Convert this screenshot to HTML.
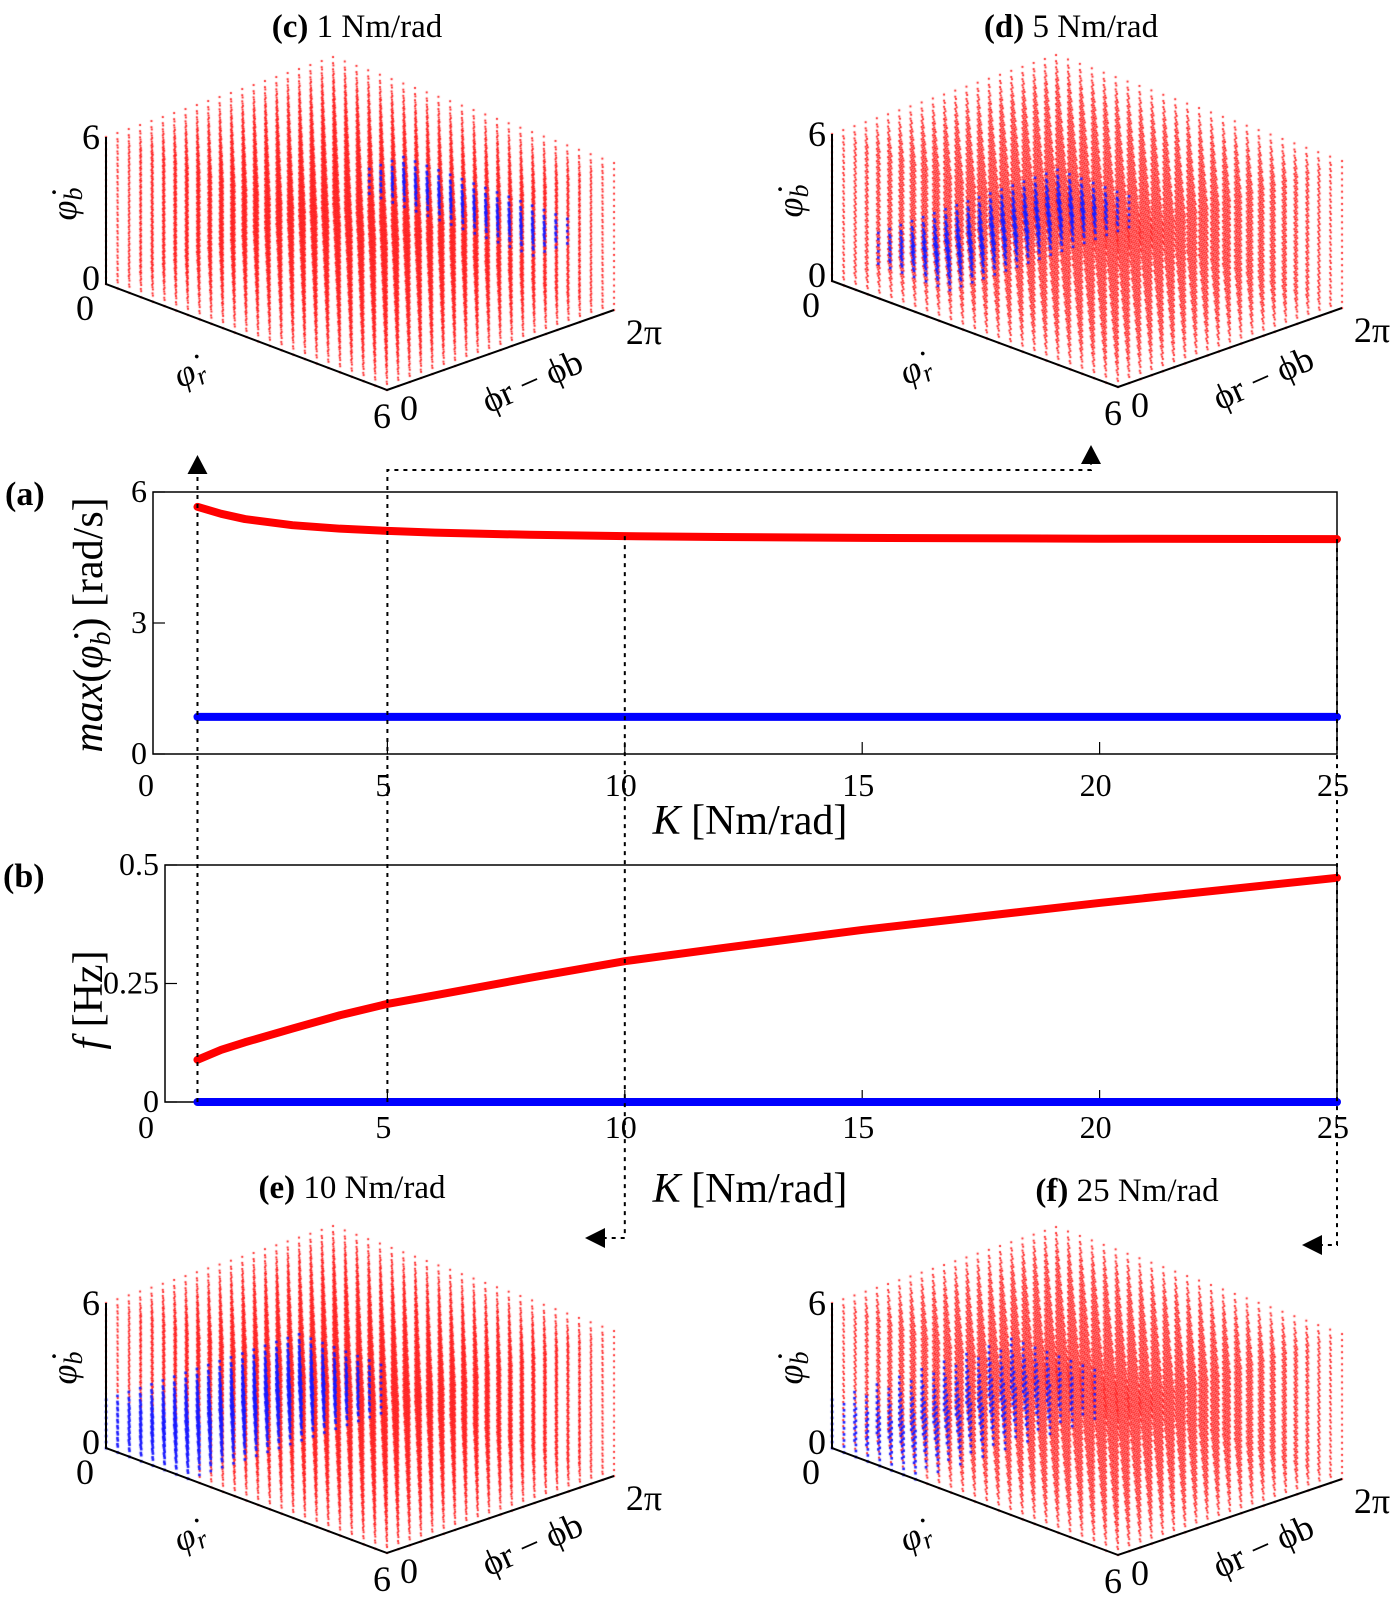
<!DOCTYPE html>
<html><head><meta charset="utf-8">
<style>
html,body{margin:0;padding:0;background:#fff;}
#wrap{position:relative;width:1394px;height:1624px;overflow:hidden;}
canvas,svg{position:absolute;left:0;top:0;}
text{font-family:"Liberation Serif","DejaVu Serif",serif;fill:#000;}
</style></head>
<body>
<div id="wrap">
<canvas id="dots" width="1394" height="1624"></canvas>
<svg id="svg" width="1394" height="1624" viewBox="0 0 1394 1624"></svg>
</div>
<script>
// ---- 2D chart data ----
const kRed = [1,1.5,2,3,4,5,6,8,10,12,15,20,25];
const maxRed = [5.66,5.5,5.38,5.24,5.16,5.11,5.07,5.02,4.99,4.97,4.95,4.93,4.92];
const kBlue = [1,25];
const maxBlue = [0.85,0.85];
const fRed = [0.089,0.11,0.126,0.155,0.183,0.207,0.225,0.262,0.297,0.324,0.363,0.42,0.473];
const fBlue = [0,0];
const xTicks = [0,5,10,15,20,25];
const yTicksA = [0,3,6];
const yTicksB = [0,0.25,0.5];
const yTickLabelsB = ["0","0.25","0.5"];
// ---- 3D panel data ----
const panelTitles = [["(c)"," 1 Nm/rad"],["(d)"," 5 Nm/rad"],["(e)"," 10 Nm/rad"],["(f)"," 25 Nm/rad"]];
// blue basin boxes as fractions [u0,u1,v0,v1,w0,w1] (phidot_r, phi_r-phi_b, phidot_b)
const blueBoxC = [0.25,0.85,0.85,1.0,0.3,0.5];
const blueBoxD = [0.05,0.35,0.1,0.9,0.1,0.35];
const blueBoxE = [0.0,0.3,0.0,0.85,0.0,0.35];
const blueBoxF = [0.0,0.3,0.0,0.85,0.0,0.35];

const NS="http://www.w3.org/2000/svg";
const svg=document.getElementById('svg');
function mk(tag,attrs,parent){const e=document.createElementNS(NS,tag);for(const k in attrs)e.setAttribute(k,attrs[k]);(parent||svg).appendChild(e);return e;}
function txt(s,x,y,size,anchor,parent,extra){const t=mk('text',Object.assign({x:x,y:y,'font-size':size,'text-anchor':anchor||'middle'},extra||{}),parent);t.textContent=s;return t;}

// axis functions
const X0=150, X1=1337;
function xs(k){return X0+(k/25)*(X1-X0);}
function yaS(v){return 754-(v/6)*(754-492);}
function ybS(v){return 1102-(v/0.5)*(1102-865);}

function panel2D(name,top,bot,left,ys,yt,ytl,reds,redv,blues,bluev,xlabY,titleY){
  const g=mk('g',{},svg);
  
  
  const box=mk('rect',{x:left,y:top,width:X1-left,height:bot-top,fill:'none',stroke:'#000','stroke-width':1.5},g);
  
  
  xTicks.forEach(k=>{
    if(k>0&&k<25) mk('line',{x1:xs(k),x2:xs(k),y1:bot,y2:bot-12,stroke:'#000','stroke-width':1.2},g);
    const t=txt(String(k),xs(k)-4,xlabY,32,'middle',g);
    
    
  });
  yt.forEach((v,i)=>{
    mk('line',{x1:left,x2:left+12,y1:ys(v),y2:ys(v),stroke:'#000','stroke-width':1.2},g);
    const t=txt(ytl[i],left-6,ys(v)+10,32,'end',g);
    
    
  });
  const pr=reds.map((k,i)=>xs(k)+','+ys(redv[i])).join(' ');
  const l1=mk('polyline',{points:pr,fill:'none',stroke:'#ff0000','stroke-width':8,'stroke-linecap':'round','stroke-linejoin':'round'},g);
  
  
  const pb=blues.map((k,i)=>xs(k)+','+ys(bluev[i])).join(' ');
  const l2=mk('polyline',{points:pb,fill:'none',stroke:'#0000ff','stroke-width':8,'stroke-linecap':'round'},g);
  
  
  const xt=mk('text',{x:750,y:titleY,'font-size':42,'text-anchor':'middle'},g);
  xt.innerHTML='<tspan font-style="italic">K</tspan>  [Nm/rad]';
  
  
  return g;
}
panel2D('panel-a',492,754,153,yaS,yTicksA,yTicksA.map(String),kRed,maxRed,kBlue,maxBlue,796,834);
panel2D('panel-b',865,1102,165,ybS,yTicksB,yTickLabelsB,kRed,fRed,kBlue,fBlue,1138,1202);

// y titles
let yt=mk('text',{x:0,y:0,'font-size':42,'text-anchor':'middle',transform:'translate(102,625) rotate(-90)'});
yt.innerHTML='<tspan font-style="italic">max</tspan>(<tspan font-style="italic">φ̇</tspan><tspan font-style="italic" font-size="28" dy="8">b</tspan><tspan dy="-8">)  [rad/s]</tspan>';


yt=mk('text',{x:0,y:0,'font-size':42,'text-anchor':'middle',transform:'translate(102,1000) rotate(-90)'});
yt.innerHTML='<tspan font-style="italic">f</tspan>  [Hz]';


let pl=txt('(a)',5,505,34,'start',svg,{'font-weight':'bold'});

pl=txt('(b)',3,887,34,'start',svg,{'font-weight':'bold'});


// dotted connectors
function dline(pts,name){const p=mk('polyline',{points:pts,fill:'none',stroke:'#000','stroke-width':2,'stroke-dasharray':'4,5'});}
function arrow(pts,name){const p=mk('polygon',{points:pts,fill:'#000'});}
dline(xs(1)+',1102 '+xs(1)+',475','connector-k1');
arrow((xs(1)-10)+',474 '+(xs(1)+10)+',474 '+xs(1)+',455','arrow-c');
dline(xs(5)+',1102 '+xs(5)+',470 1091,470 1091,463','connector-k5');
arrow('1081,464 1101,464 1091,445','arrow-d');
dline(xs(10)+','+yaS(4.99)+' '+xs(10)+',1238 604,1238','connector-k10');
arrow('605,1228 605,1248 585,1238','arrow-e');
dline(xs(25)+','+yaS(4.92)+' '+xs(25)+',1245 1322,1245','connector-k25');
arrow('1322,1235 1322,1255 1302,1245','arrow-f');

// ---- 3D panels ----
const panels=[
 {o:[106,284],r:[281,106],d:[227,-80],b:[0,-147],blue:blueBoxC,sparse:false,title:[357,37]},
 {o:[832,281],r:[286,106],d:[224,-79],b:[0,-147],blue:blueBoxD,sparse:false,title:[1071,37]},
 {o:[106,1448],r:[281,105],d:[227,-77],b:[0,-145],blue:blueBoxE,sparse:false,title:[352,1198]},
 {o:[832,1448],r:[286,107],d:[224,-76],b:[0,-145],blue:blueBoxF,sparse:true,title:[1127,1201]}
];
const ctx=document.getElementById('dots').getContext('2d');
const NR=24,ND=20,NB=24;
panels.forEach((P,pi)=>{
  function pr(u,v,w){return [P.o[0]+P.r[0]*u+P.d[0]*v+P.b[0]*w, P.o[1]+P.r[1]*u+P.d[1]*v+P.b[1]*w];}
  ctx.fillStyle='#ff2020';
  const bl=[];
  for(let i=0;i<=NR;i++)for(let j=0;j<=ND;j++)for(let k=0;k<=NB;k++){
    const u=i/NR,v=j/ND,w=k/NB;const p=pr(u,v,w);
    const B=P.blue;
    if(u>=B[0]&&u<=B[1]&&v>=B[2]&&v<=B[3]&&w>=B[4]&&w<=B[5]&&(!P.sparse||j%2==0)){bl.push(p);continue;}
    ctx.fillRect(p[0]-0.9,p[1]-0.9,1.9,1.9);
  }
  ctx.fillStyle='#1a1aff';
  bl.forEach(p=>ctx.fillRect(p[0]-1.2,p[1]-1.2,2.6,2.6));
  const g=mk('g',{});
  
  
  const O=pr(0,0,0),R=pr(1,0,0),D=pr(1,1,0),T=pr(0,0,1);
  mk('polyline',{points:T[0]+','+T[1]+' '+O[0]+','+O[1]+' '+R[0]+','+R[1]+' '+D[0]+','+D[1],fill:'none',stroke:'#000','stroke-width':2},g);
  const s=36;
  txt('6',T[0]-6,T[1]+12,s,'end',g);
  txt('0',O[0]-6,O[1]+6,s,'end',g);
  txt('0',O[0]-12,O[1]+36,s,'end',g);
  txt('6',R[0]-5,R[1]+38,s,'middle',g);
  txt('0',R[0]+22,R[1]+30,s,'middle',g);
  txt('2π',D[0]+30,D[1]+34,s,'middle',g);
  let a=mk('text',{x:0,y:0,'font-size':36,'font-style':'italic','text-anchor':'middle',transform:'translate('+(O[0]-30)+','+(O[1]-80)+') rotate(-90)'},g);
  a.innerHTML='φ̇<tspan font-size="26" dy="6">b</tspan>';
  
  a=mk('text',{x:0,y:0,'font-size':36,'font-style':'italic','text-anchor':'middle',transform:'translate('+(O[0]+88)+','+(O[1]+98)+') rotate(-25)'},g);
  a.innerHTML='φ̇<tspan font-size="26" dy="6">r</tspan>';
  
  a=mk('text',{x:0,y:0,'font-size':36,'text-anchor':'middle',transform:'translate('+(R[0]+150)+','+(R[1]+2)+') rotate(-24)'},g);
  a.textContent='ϕr − ϕb';
  
  const t=mk('text',{x:P.title[0],y:P.title[1],'font-size':33,'text-anchor':'middle'},g);
  t.innerHTML='<tspan font-weight="bold">'+panelTitles[pi][0]+'</tspan>'+panelTitles[pi][1];
  
});
</script>
</body></html>
